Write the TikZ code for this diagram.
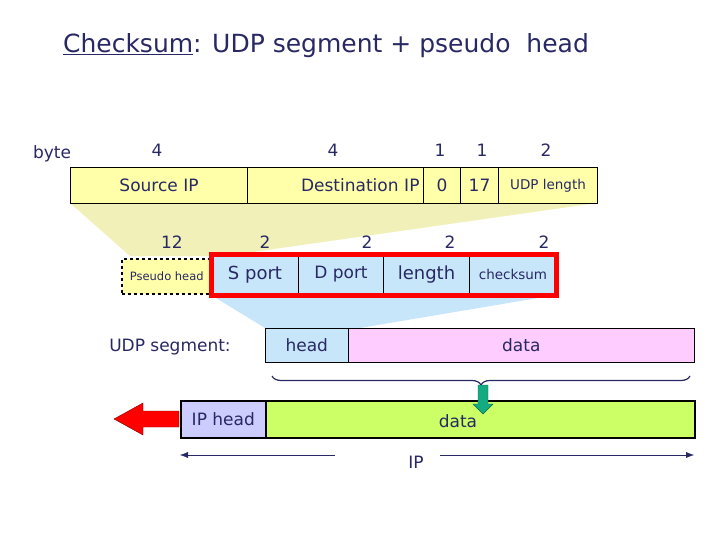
\documentclass[tikz,border=0pt]{standalone}
\usepackage{fontspec}
\setmainfont{DejaVu Sans}
\usetikzlibrary{decorations.pathreplacing,arrows.meta}
\definecolor{ink}{RGB}{40,40,100}
\definecolor{yel}{RGB}{255,255,170}
\definecolor{lblue}{RGB}{200,230,250}
\definecolor{pink}{RGB}{255,204,255}
\definecolor{lav}{RGB}{204,204,255}
\definecolor{lgreen}{RGB}{204,255,102}
\definecolor{tealg}{RGB}{20,170,130}
\begin{document}
\begin{tikzpicture}[x=1pt,y=-1pt,
  txt/.style={text=ink,font=\fontsize{17}{19}\selectfont,inner sep=0pt},
  cell/.style={draw=black,line width=1pt,text=ink,font=\fontsize{17}{19}\selectfont,inner sep=0pt,anchor=north west}]
\useasboundingbox (0,0) rectangle (720,540);
% shading trapezoids
\fill[yel!80!olive!60] (70,203) -- (597,203) -- (225,256) -- (130,256) -- cycle;
\fill[lblue] (211,295) -- (556,295) -- (360,328) -- (265,328) -- cycle;
% title
\node[txt,font=\fontsize{25}{28}\selectfont] (title) at (326,46) {\underline{Checksum}: UDP segment + pseudo\ \ head};
\node[txt] (byte) at (52,154) {byte};
\node[txt] (n1) at (157,150) {4};
\node[txt] (n2) at (333,150) {4};
\node[txt] (n3) at (440,150) {1};
\node[txt] (n4) at (482,150) {1};
\node[txt] (n5) at (546,150) {2};
% top table
\node[cell,fill=yel,minimum width=177pt,minimum height=36pt] (sip) at (70,167) {Source IP};
\node[cell,fill=yel,minimum width=176pt,minimum height=36pt,align=right,text width=168pt] (dip) at (247,167) {Destination IP};
\node[cell,fill=yel,minimum width=37pt,minimum height=36pt] (z) at (423,167) {0};
\node[cell,fill=yel,minimum width=38pt,minimum height=36pt] (s17) at (460,167) {17};
\node[cell,fill=yel,minimum width=99pt,minimum height=36pt,font=\fontsize{13.5}{15}\selectfont] (ulen) at (498,167) {UDP length};
% second numbers
\node[txt] (m1) at (172,242) {12};
\node[txt] (m2) at (265,242) {2};
\node[txt] (m3) at (367,242) {2};
\node[txt] (m4) at (450,242) {2};
\node[txt] (m5) at (544,242) {2};
% pseudo head
\node[cell,fill=yel,dashed,line width=1.5pt,minimum width=90pt,minimum height=35pt,font=\fontsize{11.5}{13}\selectfont] (ph) at (121,258) {Pseudo head};
\node[cell,fill=lblue,minimum width=87pt,minimum height=38pt,font=\fontsize{18}{20}\selectfont] (sp) at (211,255) {S port};
\node[cell,fill=lblue,minimum width=85pt,minimum height=38pt] (dp) at (298,255) {D port};
\node[cell,fill=lblue,minimum width=86pt,minimum height=38pt,font=\fontsize{18}{20}\selectfont] (len) at (383,255) {length};
\node[cell,fill=lblue,minimum width=87pt,minimum height=38pt,font=\fontsize{13.5}{15}\selectfont] (cs) at (469,255) {checksum};
\draw[red,line width=5pt] (211,254) rectangle (556,295);
% UDP segment
\node[txt] (udps) at (170,347) {UDP segment:};
\node[cell,fill=lblue,line width=0.6pt,minimum width=83pt,minimum height=34pt] (uh) at (265,328) {head};
\node[cell,fill=pink,line width=0.6pt,minimum width=346pt,minimum height=34pt] (ud) at (348,328) {data};
\draw[ink,line width=1.2pt,decorate,decoration={brace,mirror,amplitude=9pt}] (272,376) -- (690,376);
% IP row
\node[cell,fill=lav,line width=1.6pt,minimum width=85pt,minimum height=37pt] (iph) at (180,400) {IP head};
\node[cell,fill=lgreen,line width=1.6pt,minimum width=429pt,minimum height=37pt] (ipd) at (265,400) {};
\node[txt] (ipdt) at (458,421) {data};
% green arrow
\filldraw[fill=tealg,draw=tealg!60!black] (478,385) -- (488,385) -- (488,404) -- (493,404) -- (483,414) -- (473,404) -- (478,404) -- cycle;
% red arrow
\filldraw[fill=red,draw=red!50!black] (179,411) -- (143,411) -- (143,403) -- (114,419) -- (143,435) -- (143,427) -- (179,427) -- cycle;
% IP span
\node[txt] (ip) at (416,462) {IP};
\coordinate (ipl) at (180,455);
\coordinate (ipr) at (694,455);
\draw[ink,-{Latex[length=8pt]}] (335,455) -- (ipl);
\draw[ink,-{Latex[length=8pt]}] (440,455) -- (ipr);
\end{tikzpicture}
\end{document}
